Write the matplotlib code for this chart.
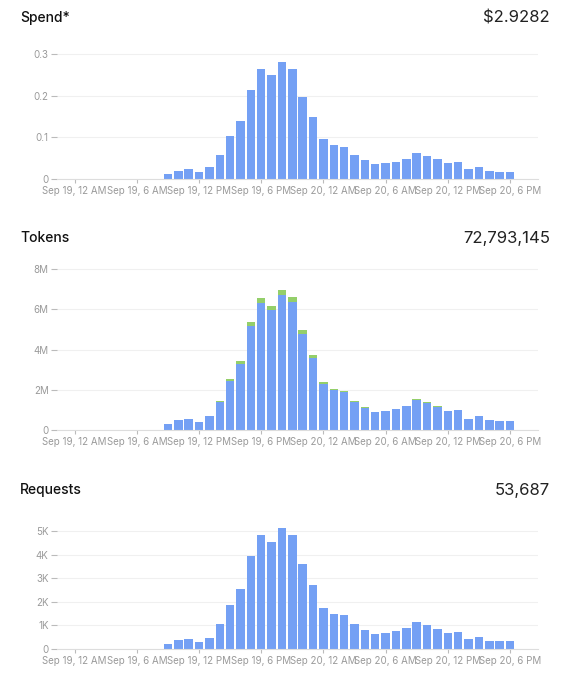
import matplotlib
matplotlib.use("Agg")
import matplotlib.pyplot as plt
import numpy as np

hours = list(range(9, 44))
spend = [0.011,0.02,0.023,0.017,0.028,0.058,0.103,0.14,0.215,0.265,0.25,0.28,0.265,0.197,0.15,
         0.096,0.082,0.078,0.058,0.045,0.035,0.038,0.042,0.048,0.062,0.056,0.048,0.038,0.04,0.023,0.029,0.02,0.018,0.018,0.001]
tokens_main = [0.3,0.5,0.55,0.4,0.7,1.4,2.45,3.3,5.15,6.3,5.95,6.7,6.35,4.75,3.6,
               2.3,1.98,1.9,1.4,1.1,0.88,0.93,1.05,1.18,1.5,1.35,1.15,0.95,1.0,0.57,0.72,0.48,0.45,0.45,0.02]
tokens_other = [0,0,0,0,0,0.05,0.1,0.12,0.2,0.27,0.22,0.28,0.25,0.2,0.12,
                0.07,0.04,0.04,0.03,0.02,0,0,0,0.03,0.04,0.03,0.03,0,0,0,0,0,0,0,0]
requests = [0.2,0.37,0.42,0.3,0.47,1.08,1.88,2.55,3.97,4.85,4.55,5.15,4.85,3.62,2.74,
            1.75,1.5,1.44,1.07,0.8,0.63,0.69,0.77,0.88,1.13,1.02,0.87,0.69,0.73,0.43,0.53,0.36,0.33,0.33,0.01]
tick_hours = [0, 6, 12, 18, 24, 30, 36, 42]
tick_labels = ["Sep 19, 12 AM","Sep 19, 6 AM","Sep 19, 12 PM","Sep 19, 6 PM",
               "Sep 20, 12 AM","Sep 20, 6 AM","Sep 20, 12 PM","Sep 20, 6 PM"]
titles = ["Spend*", "Tokens", "Requests"]
totals = ["$2.9282", "72,793,145", "53,687"]

BLUE = "#74a0f4"; GREEN = "#94cf6a"; GREY = "#9a9a9a"
plt.rcParams['font.family'] = ['Inter', 'DejaVu Sans']
fig = plt.figure(figsize=(5.68, 6.8), dpi=100)
W, H = 568, 680

def make_ax(top_px, bot_px, title_y):
    ax = fig.add_axes([57/W, 1-bot_px/H, (538-57)/W, (bot_px-top_px)/H])
    fig.text(20/W, 1-title_y/H, None, fontsize=10)
    return ax

specs = [(50, 179, 18), (265, 430, 238), (522, 649, 490)]
axes = [make_ax(*s) for s in specs]
for ax, (t, b, ty), title, total in zip(axes, specs, titles, totals):
    fig.text(20/W, 1-ty/H, title, fontsize=10, fontweight='medium', va='center', color='#111')
    fig.text(550/W, 1-ty/H, total, fontsize=12, ha='right', va='center', color='#222')
    ax.set_xlim(-1.7, 44.7)
    for s in ['top', 'right', 'left']:
        ax.spines[s].set_visible(False)
    ax.spines['bottom'].set_color('#dddddd')
    ax.set_xticks(tick_hours)
    ax.set_xticklabels(tick_labels)
    ax.tick_params(axis='x', labelsize=7, colors='#bbbbbb', labelcolor=GREY, length=3, pad=2)
    ax.tick_params(axis='y', labelsize=7, colors='#bbbbbb', labelcolor=GREY, length=4, pad=2)
    ax.grid(axis='y', color='#f0f0f0', lw=0.8)
    ax.set_axisbelow(True)

w = 0.82
axes[0].bar(hours, spend, width=w, color=BLUE)
axes[0].set_ylim(0, 0.31)
axes[0].set_yticks([0, 0.1, 0.2, 0.3]); axes[0].set_yticklabels(["0", "0.1", "0.2", "0.3"])

axes[1].bar(hours, tokens_main, width=w, color=BLUE)
axes[1].bar(hours, tokens_other, bottom=tokens_main, width=w, color=GREEN)
axes[1].set_ylim(0, 8.2)
axes[1].set_yticks([0, 2, 4, 6, 8]); axes[1].set_yticklabels(["0", "2M", "4M", "6M", "8M"])

axes[2].bar(hours, requests, width=w, color=BLUE)
axes[2].set_ylim(0, 5.4)
axes[2].set_yticks([0, 1, 2, 3, 4, 5]); axes[2].set_yticklabels(["0", "1K", "2K", "3K", "4K", "5K"])

fig.savefig("out.png", dpi=100, facecolor='white')
